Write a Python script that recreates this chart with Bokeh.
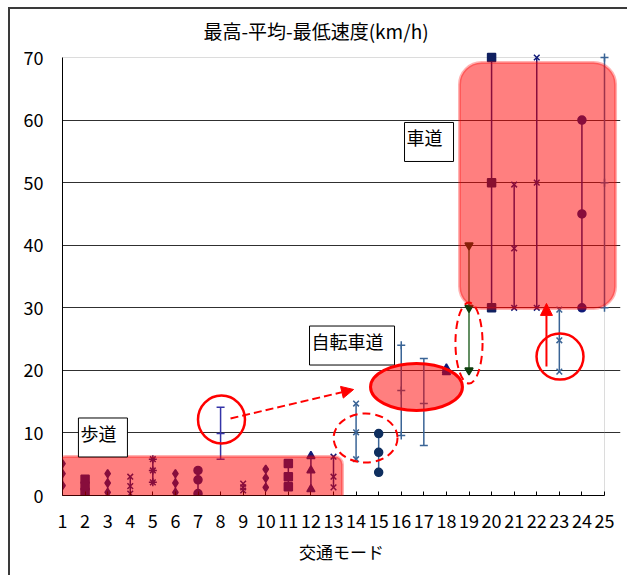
from bokeh.plotting import figure
from bokeh.models import (ColumnDataSource, Range1d, FixedTicker, BoxAnnotation, Label,
                          Arrow, NormalHead)
from bokeh.embed import file_html
from bokeh.resources import INLINE

# ---------------- data ----------------
modes = [str(i) for i in range(1, 26)]
high = [5.1, 2.6, 3.5, 3.0, 5.8, 3.5, 4.0, 14.1, 1.9, 4.2, 5.1, 6.3, 6.2,
        14.7, 9.9, 24.0, 21.9, 20.3, 40.0, 70.0, 49.7, 70.0, 29.7, 60.0, 70.0]
mean = [3.5, 1.5, 2.0, 1.5, 4.0, 2.0, 2.5, 9.9, 1.3, 2.8, 3.0, 4.0, 3.0,
        10.1, 6.9, 16.8, 14.7, 20.0, 30.0, 50.0, 39.5, 50.0, 24.8, 45.0, 50.0]
low = [1.6, 0.5, 0.5, 0.3, 2.1, 0.5, 0.3, 5.8, 0.8, 1.3, 1.4, 1.0, 1.3,
       5.8, 3.7, 9.6, 8.0, 19.7, 20.0, 30.0, 30.0, 30.0, 19.8, 30.0, 30.0]
y_ticks = [0, 10, 20, 30, 40, 50, 60, 70]
title_text = "最高-平均-最低速度(km/h)"
x_title = "交通モード"

# ---------------- styles ----------------
markers = ["diamond", "square", "diamond", "x", "asterisk", "diamond", "circle", "dash",
           "x", "diamond", "square", "triangle", "x", "x", "circle", "cross", "dash",
           "triangle", "inverted_triangle", "square", "x", "x", "x", "circle", "cross"]
NAVY = "#101a78"
STEEL = "#3a6496"
line_colors = [NAVY] * 7 + ["#3434a8"] + [NAVY] * 5 + [STEEL, STEEL, STEEL, STEEL, NAVY,
               "#2f6a2f", NAVY, NAVY, NAVY, STEEL, NAVY, STEEL]
marker_colors = [NAVY] * 7 + ["#3434a8"] + [NAVY] * 5 + [STEEL, "#0f2f5f", STEEL, STEEL, NAVY,
                 "#0f3f0f", "#102060", NAVY, NAVY, STEEL, NAVY, STEEL]
FONT = "Noto Sans CJK JP"
RED = "#ff0000"

# ---------------- layout (canvas pixels) ----------------
W, H = 619, 568
FL, FR, FT, FB = 52, 610, 40, 486      # frame edges
PX_X25, PX_Y70 = 594, 48               # pixel positions of x=25 and y=70
sx = (PX_X25 - FL) / 24.0
sy = (FB - PX_Y70) / 70.0
x_end = 25 + (FR - PX_X25) / sx
y_end = 70 + (PX_Y70 - FT) / sy

p = figure(width=W, height=H, x_range=Range1d(1, x_end), y_range=Range1d(0, y_end),
           output_backend="svg", toolbar_location=None,
           min_border_left=FL, min_border_right=W - FR, min_border_top=FT,
           min_border_bottom=H - FB, title=title_text)
p.styles = {"border-left": "2px solid #3a3a3a", "border-top": "2px solid #3a3a3a",
            "margin-left": "8px", "margin-top": "7px"}
p.outline_line_color = None
p.background_fill_color = "white"
p.border_fill_color = "white"
p.title.text_font = FONT
p.title.text_font_size = "19px"
p.title.text_font_style = "normal"
p.title.text_color = "#000000"
p.title.align = "left"
p.title.offset = 141
p.title.standoff = 11

# plot-area border
p.add_layout(BoxAnnotation(left=1, right=25, bottom=0, top=70, fill_color=None,
                           line_color="#8c8c8c", line_width=1, level="underlay"))

p.xgrid.visible = False
p.ygrid.ticker = FixedTicker(ticks=y_ticks[1:-1])
p.ygrid.bounds = (1, 25)
p.ygrid.grid_line_color = "#303030"
p.ygrid.grid_line_width = 1

xaxis = p.xaxis[0]
yaxis = p.yaxis[0]
xaxis.ticker = FixedTicker(ticks=list(range(1, 26)))
xaxis.bounds = (1, 25)
xaxis.major_label_overrides = {i + 1: m for i, m in enumerate(modes)}
xaxis.axis_label = x_title
yaxis.ticker = FixedTicker(ticks=y_ticks)
yaxis.bounds = (0, 70)
for ax in (xaxis, yaxis):
    ax.axis_line_color = "#000000"
    ax.axis_line_width = 1
    ax.major_tick_line_color = "#000000"
    ax.minor_tick_line_color = None
    ax.major_label_text_font = FONT
    ax.major_label_text_font_size = "18px"
    ax.major_label_text_color = "#000000"
    ax.axis_label_text_font = FONT
    ax.axis_label_text_font_size = "17px"
    ax.axis_label_text_font_style = "normal"
    ax.axis_label_text_color = "#000000"
xaxis.major_tick_in = 4
xaxis.major_tick_out = 0
xaxis.major_label_standoff = 18
xaxis.axis_label_standoff = 8
yaxis.major_tick_in = 0
yaxis.major_tick_out = 0
yaxis.major_label_standoff = 19

# ---------------- data marks ----------------
src = ColumnDataSource(dict(x=list(range(1, 26)), low=low, mean=mean, high=high,
                            marker=markers, lc=line_colors, mc=marker_colors))
p.segment(x0="x", y0="low", x1="x", y1="high", source=src, line_color="lc", line_width=1.5)
for col in ("low", "mean", "high"):
    p.scatter(x="x", y=col, source=src, marker="marker", size=8,
              line_color="mc", fill_color="mc", line_width=1.5)

# ---------------- annotations ----------------
p.add_layout(BoxAnnotation(left=0.779, right=13.398, bottom=-1.28, top=6.23,
                           fill_color=RED, fill_alpha=0.5, line_color=RED, line_width=3,
                           border_radius=8))
p.add_layout(BoxAnnotation(left=18.58, right=25.49, bottom=29.89, top=69.2,
                           fill_color=RED, fill_alpha=0.5, line_color=RED, line_width=3,
                           border_radius=22))
# filled ellipse (自転車道)
p.ellipse(x=[16.675], y=[17.34], width=[4.07], height=[7.51], fill_color=RED,
          fill_alpha=0.5, line_color=RED, line_width=3, level="overlay")
# circles
p.ellipse(x=[8.04, 23.03], y=[12.15, 22.2], width=[2.08, 2.08], height=[7.67, 7.35],
          fill_color=None, line_color=RED, line_width=2.5, level="overlay")
# dashed ellipses
p.ellipse(x=[14.42, 19.0], y=[9.19, 24.37], width=[2.83, 1.2], height=[7.83, 12.95],
          fill_color=None, line_color=RED, line_width=2, line_dash="8 5", level="overlay")

p.add_layout(Arrow(end=NormalHead(size=12, fill_color=RED, line_color=RED),
                   x_start=8.44, y_start=12.31, x_end=13.89, y_end=16.94,
                   line_color=RED, line_width=2, line_dash="8 4"))
p.add_layout(Arrow(end=NormalHead(size=12, fill_color=RED, line_color=RED),
                   x_start=22.43, y_start=20.6, x_end=22.43, y_end=30.7,
                   line_color=RED, line_width=2))

for tx, lx, ly in (("歩道", 2.79, 9.27), ("自転車道", 13.82, 23.97), ("車道", 17.23, 56.5)):
    p.add_layout(Label(x=lx, y=ly, text=tx, text_font=FONT, text_font_size="18px",
                       text_align="center", text_baseline="middle", text_color="#000000",
                       background_fill_color="white", border_line_color="#000000",
                       border_line_width=1, padding=(2, 11, 2, 11)))

open("out.html", "w").write(file_html(p, INLINE))
